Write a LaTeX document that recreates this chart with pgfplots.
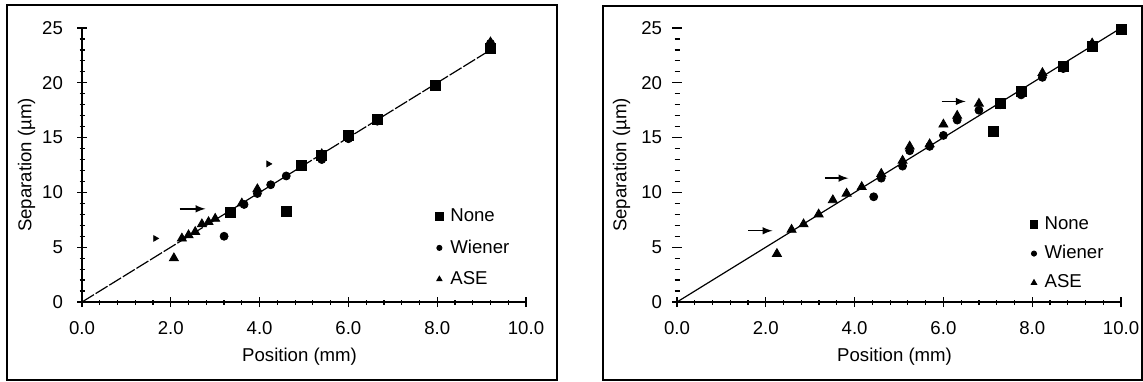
\documentclass[border=0pt]{standalone}
\usepackage{fontspec}
\setmainfont{Liberation Sans}
\usepackage{pgfplots}
\pgfplotsset{compat=1.18}
\pgfplotsset{
 panel/.style={
  scale only axis, width=222pt, height=137pt,
  xmin=0,xmax=10,ymin=0,ymax=25,
  axis x line=bottom, axis y line=left,
  axis line style={-, line width=0.6pt},
  xtick={0,2,4,6,8,10}, xticklabels={0.0,2.0,4.0,6.0,8.0,10.0},
  ytick={0,5,10,15,20,25},
  minor x tick num=4, minor y tick num=4,
  tick align=center, major tick length=5pt, minor tick length=2.5pt,
  every tick/.style={black, line width=0.6pt},
  font=\fontsize{9.3}{11}\selectfont,
  /pgf/number format/assume math mode=true,
  xlabel={Position (mm)}, ylabel={Separation (µm)},
  xlabel style={at={(axis description cs:0.49,-0.2)},anchor=center},
  ylabel style={at={(axis description cs:-0.125,0.5)},anchor=center},
  xticklabel style={yshift=-3.5pt},
  legend cell align=left,
  legend style={draw=none, fill=none, anchor=north west, row sep=3.5pt, inner sep=0pt,
                font=\fontsize{9.3}{11}\selectfont,
                /tikz/every odd column/.append style={column sep=1.5pt}},
 },
 sq/.style={only marks, mark=square*, mark size=2.5pt, black},
 ci/.style={only marks, mark=*, mark size=2pt, black},
 tr/.style={only marks, mark=triangle*, mark size=2.6pt, black},
}
\begin{document}
\begin{tikzpicture}
\useasboundingbox (0,0) rectangle (571.5pt,190.5pt);
% ---------------- left panel ----------------
\begin{axis}[panel, at={(41pt,39.5pt)}, anchor=south west,
  yticklabel style={xshift=-3.5pt},
  legend style={at={(axis cs:7.95,8.9)}}]
\addplot[black, line width=0.6pt, dash pattern=on 7pt off 1pt, forget plot] coordinates {(0,0) (9.2,23.0)};
\addplot[sq, forget plot] coordinates {
 (3.35,8.2) (4.6,8.3) (4.95,12.5) (5.4,13.4) (6.0,15.2) (6.65,16.7) (7.95,19.8) (9.2,23.1)};
\addplot[ci, forget plot] coordinates {
 (3.2,6.0) (3.65,8.9) (3.95,9.9) (4.25,10.7) (4.6,11.5) (4.95,12.4) (5.4,13.0) (6.0,14.9) (6.65,16.5) (9.2,23.6)};
\addplot[tr, forget plot] coordinates {
 (2.07,4.0) (2.25,5.8) (2.4,6.1) (2.55,6.4) (2.7,7.1) (2.85,7.3) (3.0,7.6) (3.6,9.0) (3.95,10.3) (5.4,13.5) (9.2,23.7)};
\addplot[only marks, mark=triangle*, mark size=1.6pt, mark options={rotate=-90}, black, forget plot] coordinates {
 (1.65,5.8) (4.2,12.6)};
\draw[-latex, line width=0.7pt] (axis cs:2.2,8.5) -- (axis cs:2.78,8.5);
\addlegendimage{only marks, mark=square*, mark size=2pt, black}
\addlegendentry{None}
\addlegendimage{only marks, mark=*, mark size=1.3pt, black}
\addlegendentry{Wiener}
\addlegendimage{only marks, mark=triangle*, mark size=1.5pt, black}
\addlegendentry{ASE}
\end{axis}
% ---------------- right panel ----------------
\begin{axis}[panel, at={(338.5pt,39.5pt)}, anchor=south west,
  y axis line style={draw=none},
  yticklabel style={xshift=-1.5pt},
  legend style={at={(axis cs:7.95,8.2)}, row sep=2.5pt}]
\addplot[black, line width=0.6pt, forget plot] coordinates {(0,0) (10,25)};
\addplot[sq, forget plot] coordinates {
 (7.12,15.6) (7.28,18.1) (7.75,19.2) (8.7,21.5) (9.35,23.3) (10.0,24.9)};
\addplot[ci, forget plot] coordinates {
 (4.43,9.6) (4.6,11.3) (5.08,12.4) (5.24,13.8) (5.69,14.2) (6.0,15.2) (6.31,16.6) (6.8,17.5) (7.28,18.0) (7.75,18.9) (8.23,20.5) (8.7,21.3)};
\addplot[tr, forget plot] coordinates {
 (2.25,4.4) (2.58,6.6) (2.85,7.1) (3.19,8.0) (3.51,9.3) (3.82,9.9) (4.16,10.5) (4.6,11.7) (5.08,12.9) (5.24,14.2) (5.69,14.4) (6.0,16.2) (6.31,17.0) (6.8,18.1) (8.23,20.9) (9.35,23.6)};
\draw[-latex, line width=0.7pt] (axis cs:1.6,6.5) -- (axis cs:2.15,6.5);
\draw[-latex, line width=0.7pt] (axis cs:3.33,11.3) -- (axis cs:3.86,11.3);
\draw[-latex, line width=0.7pt] (axis cs:5.96,18.3) -- (axis cs:6.5,18.3);
\addlegendimage{only marks, mark=square*, mark size=1.8pt, black}
\addlegendentry{None}
\addlegendimage{only marks, mark=*, mark size=1.3pt, black}
\addlegendentry{Wiener}
\addlegendimage{only marks, mark=triangle*, mark size=1.6pt, black}
\addlegendentry{ASE}
\end{axis}
% frames
\draw[line width=0.8pt] (3.5pt,0.5pt) rectangle (278.5pt,188pt);
\draw[line width=0.8pt] (301.5pt,0.5pt) rectangle (571pt,187.5pt);
\end{tikzpicture}
\end{document}
